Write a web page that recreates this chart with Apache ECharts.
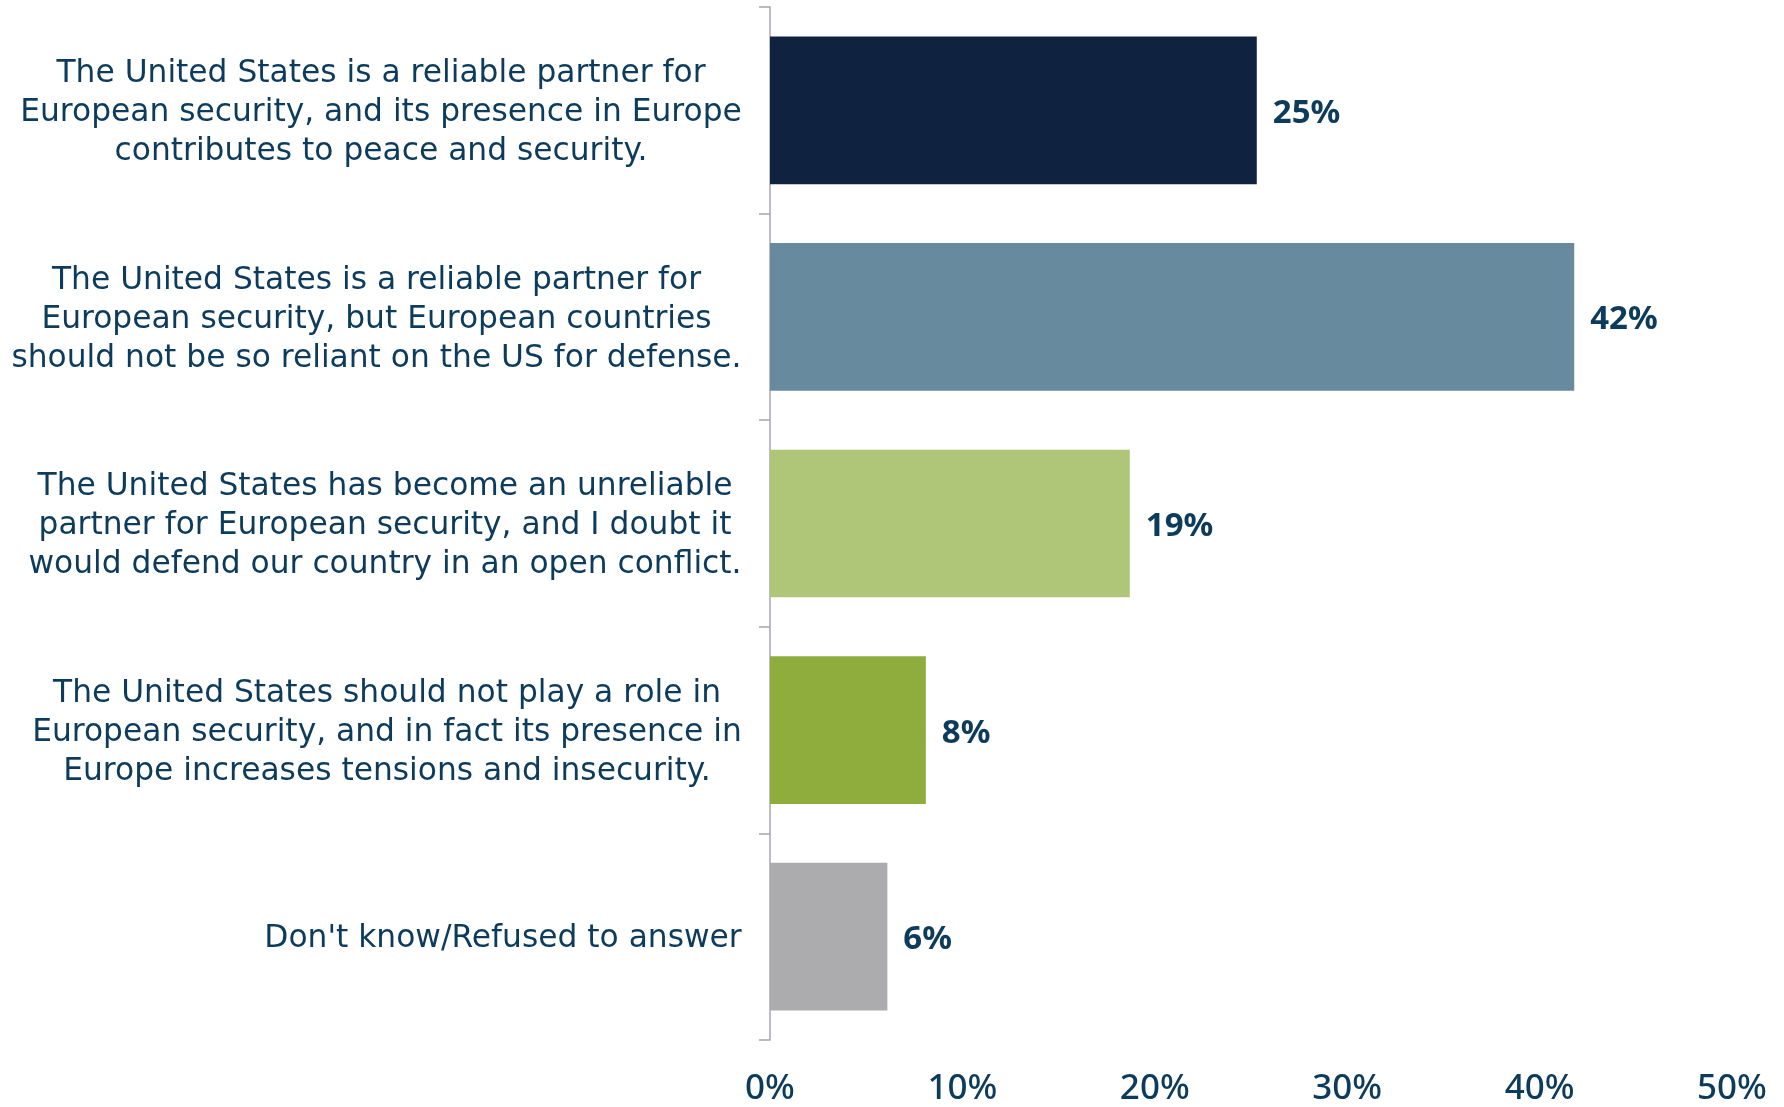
<!DOCTYPE html>
<html>
<head>
<meta charset="utf-8">
<script src="https://cdn.jsdelivr.net/npm/echarts@6/dist/echarts.min.js"></script>
<style>
html,body{margin:0;padding:0;background:#fff;}
#chart{width:1784px;height:1107px;}
</style>
</head>
<body>
<div id="chart"></div>
<script>
const categories = [
  "The United States is a reliable partner for\nEuropean security, and its presence in Europe\ncontributes to peace and security.",
  "The United States is a reliable partner for\nEuropean security, but European countries\nshould not be so reliant on the US for defense.",
  "The United States has become an unreliable\npartner for European security, and I doubt it\nwould defend our country in an open conflict.",
  "The United States should not play a role in\nEuropean security, and in fact its presence in\nEurope increases tensions and insecurity.",
  "Don't know/Refused to answer"
];
// bar lengths; labels show them rounded
const values = [25.3, 41.8, 18.7, 8.1, 6.1];
const barColors = ['#0f2340', '#678a9e', '#afc577', '#8fad3d', '#acacae'];
const xTicks = { min: 0, max: 50, interval: 10 };

const TEXT = '#0d3b5c';
const FONT = 'Noto Sans';
const CAT_FONT = 'DejaVu Sans';
const CAT_SIZE = 31.3;

// measure each label block so lines can be centred within a right-aligned block
const ctx = document.createElement('canvas').getContext('2d');
ctx.font = CAT_SIZE + 'px "' + CAT_FONT + '"';
const rich = {};
categories.forEach((c, i) => {
  const w = Math.max(...c.split('\n').map(l => ctx.measureText(l).width));
  rich['r' + i] = { width: Math.ceil(w), align: 'center', fontSize: CAT_SIZE, fontFamily: CAT_FONT, color: TEXT, lineHeight: 39, padding: [5, 0, 0, 0] };
});

const chart = echarts.init(document.getElementById('chart'));
chart.setOption({
  animation: false,
  backgroundColor: '#fff',
  grid: { left: 770, right: 52, top: 7, bottom: 62, containLabel: false },
  xAxis: {
    type: 'value', min: xTicks.min, max: xTicks.max, interval: xTicks.interval,
    axisLine: { show: false }, axisTick: { show: false }, splitLine: { show: false },
    axisLabel: { formatter: '{value}%', color: TEXT, fontSize: 35, fontFamily: FONT, fontWeight: 500, margin: 32 }
  },
  yAxis: {
    type: 'category', inverse: true, data: categories,
    axisLine: { show: true, lineStyle: { color: '#a3a8b0', width: 1.5 } },
    axisTick: { show: true, length: 11, lineStyle: { color: '#a3a8b0', width: 1.5 } },
    axisLabel: {
      margin: 28, align: 'right',
      formatter: (v, i) => v.split('\n').map(l => '{r' + i + '|' + l + '}').join('\n'),
      rich: rich
    }
  },
  series: [{
    type: 'bar',
    barCategoryGap: '28.5%',
    data: values.map((v, i) => ({ value: v, itemStyle: { color: barColors[i] } })),
    label: {
      show: true, position: 'right', distance: 16, offset: [0, 3],
      formatter: p => Math.round(p.value) + '%',
      color: TEXT, fontSize: 33, fontWeight: 'bold', fontFamily: FONT
    }
  }]
});
</script>
</body>
</html>
